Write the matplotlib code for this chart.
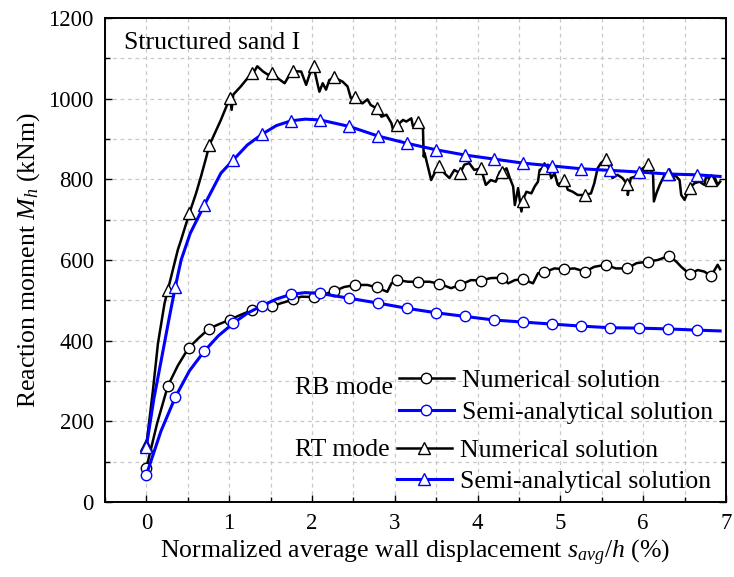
import matplotlib
matplotlib.use("Agg")
import matplotlib.pyplot as plt
from matplotlib.lines import Line2D
from matplotlib.ticker import MultipleLocator

plt.rcParams.update({
    "font.family": "Liberation Serif",
    "mathtext.fontset": "custom",
    "mathtext.rm": "Liberation Serif",
    "mathtext.it": "Liberation Serif:italic",
    "font.size": 18,
})

# RT mode, numerical solution (raw trace + marked points)
rt_num_x = [0, 0.08, 0.14, 0.22, 0.26, 0.38, 0.42, 0.52, 0.60, 0.66, 0.72, 0.76, 0.90,
            1.01, 1.03, 1.05, 1.14, 1.22, 1.29, 1.34, 1.41, 1.47, 1.53, 1.59, 1.67, 1.73,
            1.77, 1.87, 1.93, 1.97, 2.02, 2.07, 2.09, 2.13, 2.17, 2.21, 2.27, 2.37, 2.43,
            2.47, 2.53, 2.61, 2.67, 2.71, 2.78, 2.84, 2.90, 2.96, 2.98, 3.03, 3.10, 3.14,
            3.20, 3.22, 3.28, 3.34, 3.35, 3.36, 3.40, 3.44, 3.48, 3.54, 3.60, 3.66, 3.72,
            3.79, 3.84, 3.90, 3.96, 4.04, 4.10, 4.16, 4.22, 4.27, 4.30, 4.35, 4.39, 4.43,
            4.45, 4.49, 4.53, 4.55, 4.59, 4.65, 4.69, 4.73, 4.75, 4.80, 4.85, 4.89, 4.93,
            4.97, 5.05, 5.09, 5.15, 5.21, 5.30, 5.37, 5.41, 5.45, 5.49, 5.55, 5.59, 5.63,
            5.69, 5.75, 5.81, 5.815, 5.85, 5.91, 5.97, 6.06, 6.12, 6.13, 6.16, 6.20, 6.26,
            6.32, 6.40, 6.44, 6.46, 6.50, 6.56, 6.62, 6.68, 6.74, 6.76, 6.82, 6.86, 6.90, 6.93]
rt_num_y = [141, 278, 393, 493, 526, 625, 650, 716, 765, 807, 852, 884, 947,
            1002, 972, 1010, 1030, 1050, 1063, 1080, 1067, 1059, 1064, 1050, 1038, 1059,
            1068, 1067, 1034, 1059, 1080, 1034, 1017, 1038, 1022, 1046, 1052, 1042, 1030,
            1001, 1004, 988, 998, 984, 976, 955, 960, 939, 922, 934, 947, 943,
            951, 931, 942, 931, 856, 865, 831, 798, 815, 833, 815, 803, 823,
            815, 836, 840, 823, 827, 786, 798, 794, 819, 819, 827, 803, 782,
            736, 778, 720, 750, 769, 765, 782, 794, 823, 829, 836, 803, 815,
            786, 798, 774, 769, 761, 761, 765, 790, 827, 840, 851, 831, 803,
            811, 803, 787, 761, 803, 807, 823, 837, 811, 745, 765, 786, 811,
            814, 807, 798, 761, 749, 778, 790, 794, 786, 807, 799, 807, 786, 794]
num_mark_x = [0, 0.26, 0.51, 0.76, 1.01, 1.27, 1.52, 1.77, 2.02, 2.27, 2.52, 2.78, 3.03, 3.28,
              3.54, 3.79, 4.04, 4.30, 4.55, 4.80, 5.05, 5.30, 5.55, 5.81, 6.06, 6.31, 6.57, 6.82]
rt_num_mark_y = [141, 526, 716, 884, 1002, 1063, 1064, 1068, 1080, 1053, 1004, 976, 934, 942,
                 833, 815, 827, 819, 746, 829, 798, 761, 851, 787, 837, 814, 778, 799]

# RB mode, numerical solution
rb_num_x = [0, 0.13, 0.26, 0.38, 0.51, 0.64, 0.76, 0.88, 1.01, 1.14, 1.27, 1.40, 1.53, 1.63,
            1.78, 1.87, 2.02, 2.15, 2.27, 2.39, 2.53, 2.67, 2.78, 2.91, 2.96, 3.03, 3.16,
            3.28, 3.42, 3.54, 3.68, 3.79, 3.92, 4.04, 4.16, 4.30, 4.37, 4.45, 4.55, 4.67,
            4.73, 4.80, 4.93, 5.05, 5.17, 5.30, 5.41, 5.55, 5.67, 5.81, 5.92, 6.06, 6.18,
            6.31, 6.40, 6.46, 6.56, 6.66, 6.74, 6.82, 6.90, 6.93]
rb_num_y = [84, 195, 288, 338, 382, 408, 430, 441, 452, 464, 475, 480, 486, 493,
            502, 509, 508, 515, 523, 533, 538, 538, 532, 521, 542, 550, 546,
            546, 546, 541, 530, 538, 550, 549, 555, 556, 542, 550, 552, 542,
            567, 569, 579, 577, 579, 571, 583, 588, 579, 579, 592, 596, 600,
            610, 596, 583, 565, 575, 571, 560, 588, 577]
rb_num_mark_y = [84, 288, 382, 430, 452, 475, 486, 502, 508, 523, 538, 532, 550, 546,
                 541, 538, 549, 556, 552, 569, 577, 571, 588, 579, 596, 610, 565, 560]

# Semi-analytical solutions
sa_mark_x = [0, 0.35, 0.70, 1.05, 1.40, 1.75, 2.10, 2.45, 2.80, 3.15, 3.50, 3.85, 4.20,
             4.55, 4.90, 5.25, 5.60, 5.95, 6.30, 6.65]
rt_sa_mark_y = [137, 534, 736, 848, 912, 945, 947, 931, 907, 889, 873, 860, 850,
                840, 833, 826, 822, 818, 813, 811]
rb_sa_mark_y = [67, 260, 374, 443, 487, 515, 517, 505, 493, 480, 469, 460, 451,
                446, 441, 436, 432, 431, 429, 426]

rt_sa_x = [0, 0.09, 0.18, 0.27, 0.35, 0.42, 0.53, 0.70, 0.90, 1.05, 1.22, 1.40, 1.57, 1.75,
           1.92, 2.10, 2.45, 2.80, 3.15, 3.50, 3.85, 4.20, 4.55, 4.90, 5.25, 5.60, 5.95,
           6.30, 6.65, 6.93]
rt_sa_y = [137, 255, 352, 450, 534, 600, 666, 736, 815, 848, 885, 912, 933, 945,
           949, 947, 931, 907, 889, 873, 860, 850, 840, 833, 826, 822, 818,
           813, 811, 807]
rb_sa_x = [0, 0.175, 0.35, 0.52, 0.70, 0.87, 1.05, 1.22, 1.40, 1.57, 1.75, 1.92, 2.10,
           2.45, 2.80, 3.15, 3.50, 3.85, 4.20, 4.55, 4.90, 5.25, 5.60, 5.95, 6.30, 6.65, 6.93]
rb_sa_y = [67, 175, 260, 325, 374, 412, 443, 468, 487, 503, 515, 519, 517,
           505, 493, 480, 469, 460, 451, 446, 441, 436, 432, 431, 429, 426, 424]

BLUE = "#0000FF"
TXT = 18.5

fig = plt.figure(figsize=(7.34, 5.77), dpi=100)
ax = fig.add_axes([0.143, 0.130, 0.846, 0.839])

# numerical (black)
ax.plot(rb_num_x, rb_num_y, color="black", lw=1.8, zorder=2)
ax.plot(num_mark_x, rb_num_mark_y, ls="none", marker="o", ms=7.5, mfc="white",
        mec="black", mew=1.0, zorder=3)
ax.plot(rt_num_x, rt_num_y, color="black", lw=1.8, zorder=2)
ax.plot(num_mark_x, rt_num_mark_y, ls="none", marker="^", ms=8.5, mfc="white",
        mec="black", mew=1.0, zorder=3)

# semi-analytical (blue)
ax.plot(rb_sa_x, rb_sa_y, color=BLUE, lw=2.2, zorder=4)
ax.plot(sa_mark_x, rb_sa_mark_y, ls="none", marker="o", ms=7.5, mfc="white",
        mec=BLUE, mew=1.0, zorder=5)
ax.plot(rt_sa_x, rt_sa_y, color=BLUE, lw=2.2, zorder=4)
ax.plot(sa_mark_x, rt_sa_mark_y, ls="none", marker="^", ms=8.5, mfc="white",
        mec=BLUE, mew=1.0, zorder=5)

ax.set_xlim(-0.5, 7.0)
ax.set_ylim(0, 1200)
ax.xaxis.set_major_locator(MultipleLocator(1))
ax.xaxis.set_minor_locator(MultipleLocator(0.5))
ax.yaxis.set_major_locator(MultipleLocator(200))
ax.yaxis.set_minor_locator(MultipleLocator(100))
ax.tick_params(which="both", direction="in", left=True, right=True, bottom=True,
               top=False, labelsize=16.5, width=1.0)
ax.tick_params(which="major", length=5, pad=8)
ax.tick_params(which="minor", length=3.5)
ax.grid(True, which="both", ls=(0, (3, 3)), color="#c8c8c8", lw=0.9)
ax.set_axisbelow(True)
for sp in ax.spines.values():
    sp.set_linewidth(1.4)

ax.set_xlabel("Normalized average wall displacement $s_{avg}/h$ (%)", fontsize=TXT, labelpad=3)
ax.set_ylabel("Reaction moment $M_h$ (kNm)", fontsize=TXT, labelpad=5)

ax.text(0.031, 0.948, "Structured sand I", transform=ax.transAxes, fontsize=TXT,
        ha="left", va="center")

# legends
h_rb_num = Line2D([], [], color="black", lw=1.8, marker="o", ms=7.5, mfc="white", mec="black")
h_rb_sa = Line2D([], [], color=BLUE, lw=2.2, marker="o", ms=7.5, mfc="white", mec=BLUE)
h_rt_num = Line2D([], [], color="black", lw=1.8, marker="^", ms=8.5, mfc="white", mec="black")
h_rt_sa = Line2D([], [], color=BLUE, lw=2.2, marker="^", ms=8.5, mfc="white", mec=BLUE)

leg_kw = dict(frameon=False, fontsize=TXT, handlelength=2.15, handletextpad=0.3,
              labelspacing=0.34, borderpad=0, borderaxespad=0, loc="upper left")
leg1 = ax.legend([h_rb_num, h_rb_sa], ["Numerical solution", "Semi-analytical solution"],
                 bbox_to_anchor=(0.473, 0.274), **leg_kw)
ax.add_artist(leg1)
ax.legend([h_rt_num, h_rt_sa], ["Numerical solution", "Semi-analytical solution"],
          bbox_to_anchor=(0.47, 0.131), **leg_kw)
ax.text(0.306, 0.236, "RB mode", transform=ax.transAxes, fontsize=TXT, ha="left", va="center")
ax.text(0.306, 0.107, "RT mode", transform=ax.transAxes, fontsize=TXT, ha="left", va="center")

fig.savefig("out.png", dpi=100)
